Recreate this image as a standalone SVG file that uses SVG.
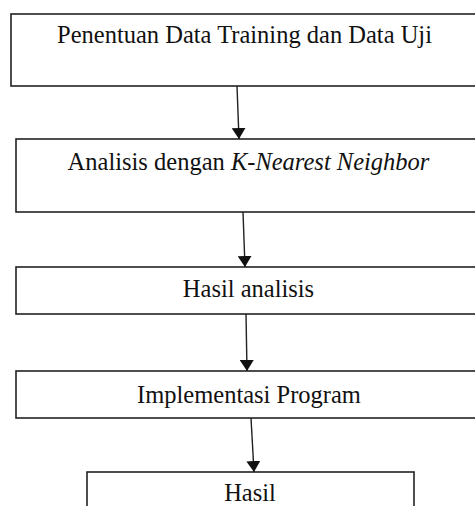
<svg xmlns="http://www.w3.org/2000/svg" width="475" height="506" viewBox="0 0 475 506">
<style>
.box{fill:#fff;stroke:#222;stroke-width:1.6}
.lbl{font-family:"Liberation Serif","Times New Roman",serif;font-size:24.5px;fill:#111;text-anchor:middle}
.conn{stroke:#222;stroke-width:1.4;fill:none;marker-end:url(#ah)}
</style>
<defs>
<marker id="ah" markerUnits="userSpaceOnUse" markerWidth="12" markerHeight="14" viewBox="0 0 12 14" refX="11" refY="7" orient="auto">
<path d="M0,0 L11,7 L0,14 Z" fill="#111"/>
</marker>
</defs>
<rect width="475" height="506" fill="#fff"/>
<g id="n1"><rect class="box" x="11" y="14" width="480" height="72"/><text class="lbl" x="244.5" y="43">Penentuan Data Training dan Data Uji</text></g>
<g id="n2"><rect class="box" x="16" y="139" width="480" height="73"/><text class="lbl" x="248.5" y="170">Analisis dengan <tspan font-style="italic">K-Nearest Neighbor</tspan></text></g>
<g id="n3"><rect class="box" x="16" y="267" width="480" height="47"/><text class="lbl" x="248.5" y="297">Hasil analisis</text></g>
<g id="n4"><rect class="box" x="16" y="371" width="480" height="47"/><text class="lbl" x="249" y="403">Implementasi Program</text></g>
<g id="n5"><rect class="box" x="87" y="472" width="327" height="60"/><text class="lbl" x="250" y="501">Hasil</text></g>
<g id="connectors">
<path class="conn" d="M237,86 L239,139"/>
<path class="conn" d="M243,212 L245,267"/>
<path class="conn" d="M246,314 L247,371"/>
<path class="conn" d="M251,418 L254,472"/>
</g>
</svg>
